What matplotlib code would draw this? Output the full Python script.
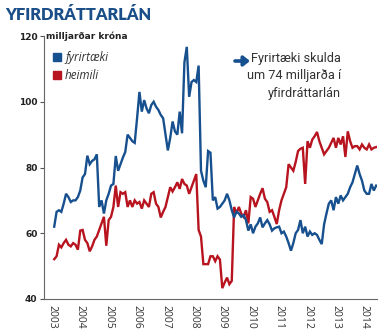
import numpy as np
import matplotlib.pyplot as plt
from matplotlib.lines import Line2D

# monthly values, Feb 2003 - Jun 2014 (milljarðar króna)
fyrirtaeki = [
    62, 66.5, 67, 66.5, 69, 72, 71, 69.5, 70, 70, 71, 73,
    77, 78, 83.6, 81, 82, 82.5, 84, 68, 70, 66, 70, 72,
    74.5, 75, 83.5, 79, 81, 83, 84.7, 90, 89, 88, 87.5, 95,
    103, 97, 100.5, 98, 96.5, 99, 100, 98.5, 97.5, 96, 95, 90,
    85.2, 89, 94, 91, 90, 97, 90.4, 112, 116.7, 101.5, 106, 106.6,
    106, 111, 79, 76, 74, 85, 84.5, 70, 71, 67.5, 68, 69,
    70, 72, 70, 67, 64.8, 66.6, 66, 65, 65.5, 64, 60.8, 62.7,
    60, 62, 63, 64.8, 61.8, 63, 64, 62.7, 60.8, 61.5, 61.8, 62,
    60, 60.5, 59, 57, 54.7, 57, 60, 61, 64, 60, 62, 59,
    60.5, 59.5, 60, 59.5, 58, 56.7, 62.7, 66, 69, 70, 67, 71,
    69, 71.5, 70, 71, 72, 74, 75.5, 78, 80.6, 78, 76, 73,
    72, 72, 75, 73, 74.5,
]
heimili = [
    52.1, 53, 56.5, 55.7, 57, 58, 56.5, 56, 57, 56.5, 55, 60.8,
    61, 58, 57, 54.5, 56, 58, 59, 61, 63, 65, 56.2, 64,
    65, 68, 74.5, 68, 72.5, 72, 72.5, 68, 70, 68, 70, 69,
    69.5, 67.5, 70, 69, 68, 72, 72.5, 69, 68, 64.8, 66.5, 68,
    71, 74, 72.7, 74, 75.5, 73.5, 76.5, 75, 74.5, 72, 74, 76,
    78, 61, 59, 50.6, 50.6, 50.6, 53, 53, 51.5, 53, 52, 43.3,
    45, 46.5, 44.5, 45.5, 68, 66, 68, 66, 65, 67, 63, 71,
    70.5, 68, 70, 72, 73.7, 70.5, 69.5, 66.5, 67, 65, 62.8, 67,
    70, 72, 74, 81, 80, 79, 81.7, 85, 85.7, 86, 75, 88,
    86, 88.5, 89.5, 90.8, 88, 86, 84, 85, 86, 87.5, 89, 86,
    89, 87, 89.5, 83.2, 91, 88, 86, 86.5, 86.5, 85.5, 87, 86,
    85.5, 87, 85.5, 86, 86.2,
]
years = list(range(2003, 2015))
y_ticks = [40, 60, 80, 100, 120]

blue = '#17508e'
red = '#b7141f'

t = 2003 + (np.arange(len(fyrirtaeki)) + 1) / 12

fig = plt.figure(figsize=(3.9, 3.35), dpi=100)
ax = fig.add_axes([0.114, 0.1075, 0.853, 0.785])

ax.plot(t, heimili, color=red, lw=1.7, solid_joinstyle='miter')
ax.plot(t, fyrirtaeki, color=blue, lw=1.7, solid_joinstyle='miter')

ax.set_xlim(2002.74, 2014.45)
ax.set_ylim(40, 120)
ax.set_yticks(y_ticks)
ax.set_yticklabels([str(v) for v in y_ticks], fontsize=6.5, fontweight='bold', color='#222')
ax.set_xticks(years)
ax.set_xticklabels([str(y) for y in years], rotation=270, fontsize=7.5, color='#333',
                   family='Open Sans')
ax.tick_params(axis='x', length=0, pad=4)
ax.tick_params(axis='y', length=3, width=0.8, color='#555', pad=2)
for s in ['top', 'right']:
    ax.spines[s].set_visible(False)
for s in ['left', 'bottom']:
    ax.spines[s].set_color('#666')
    ax.spines[s].set_linewidth(0.8)

ax.text(2002.8, 120, 'milljarðar króna', fontsize=6.5, fontweight='bold', color='#222',
        va='center', ha='left')

handles = [Line2D([], [], marker='s', ls='', color=blue, markersize=6),
           Line2D([], [], marker='s', ls='', color=red, markersize=6)]
leg = ax.legend(handles, ['fyrirtæki', 'heimili'], loc='upper left',
                bbox_to_anchor=(52 / 390, 1 - 51 / 335), bbox_transform=fig.transFigure,
                frameon=False, borderpad=0, borderaxespad=0, handlelength=0.8,
                handletextpad=0.3, labelspacing=0.4,
                prop={'family': 'Open Sans', 'style': 'italic', 'size': 8.4})
for txt in leg.get_texts():
    txt.set_color('#333')

fig.text(5 / 390, 1 - 15 / 335, 'YFIRDRÁTTARLÁN', fontsize=11.8, fontweight='heavy',
         family='Lato', color='#1a4e88', va='center', ha='left')

ax.annotate('', xy=(250 / 390, 1 - 61 / 335), xytext=(235 / 390, 1 - 61 / 335),
            xycoords='figure fraction', textcoords='figure fraction',
            arrowprops=dict(arrowstyle='-|>,head_width=0.28,head_length=0.35',
                            lw=2.6, color=blue, shrinkA=0, shrinkB=0))
fig.text(341 / 390, 1 - 52 / 335, 'Fyrirtæki skulda\num 74 milljarða í\nyfirdráttarlán',
         fontsize=9.2, family='Roboto', color='#333333',
         va='top', ha='right', ma='right', linespacing=1.45)

fig.savefig('out.png', dpi=100)
